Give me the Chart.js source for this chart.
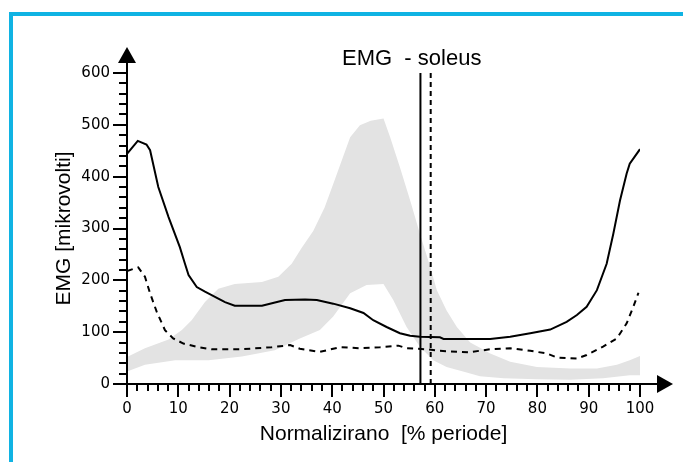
<!DOCTYPE html>
<html>
<head>
<meta charset="utf-8">
<script src="https://cdn.jsdelivr.net/npm/chart.js@4"></script>
<style>
  html, body { margin: 0; padding: 0; background: #fff; }
  #wrap { position: relative; width: 683px; height: 462px; overflow: hidden; }
  #okvir { position: absolute; left: 9px; top: 12px; right: -10px; bottom: -10px;
           border-top: 4px solid #10b3e3; border-left: 4px solid #10b3e3; }
  #graf { position: absolute; left: 0; top: 0; }
</style>
</head>
<body>
<div id="wrap">
  <div id="okvir"></div>
  <canvas id="graf" width="683" height="462"></canvas>
</div>
<script>
// --- PODACI ---
const naslov = 'EMG  - soleus';
const naslovX = 'Normalizirano  [% periode]';
const naslovY = 'EMG [mikrovolti]';

// srednja vrijednost (puna linija)
const srednjaX = [0, 2.1, 3.8, 4.5, 6.1, 8.1, 10.3, 11.3, 12, 13.6, 15.2, 19.1, 21, 26.3, 30.8, 34.7, 37, 40.2, 43.5, 46.1, 48, 50.6, 53.2, 55.2, 57.1, 61, 61.7, 66, 70.8, 74.7, 78.6, 82.5, 85.7, 87.7, 89.6, 91.6, 93.5, 94.8, 96.1, 97.4, 98, 100];
const srednjaY = [444, 469, 462, 451, 380, 322, 264, 232, 210, 187, 178, 158, 151, 151, 162, 163, 162, 155, 146, 137, 123, 110, 98, 93, 91, 90, 87, 87, 87, 91, 98, 105, 120, 133, 149, 181, 232, 290, 354, 406, 425, 453];

// isprekidana linija
const drugaX = [0, 2.2, 3.5, 4.5, 5.8, 7.4, 9, 11, 13.9, 16.5, 22.4, 28.2, 31.8, 33.7, 37.6, 41.5, 45.4, 49.3, 52.9, 54.5, 58.4, 61, 66.5, 70.8, 74.7, 78.6, 81.8, 83.8, 87.7, 89.6, 92.8, 95.5, 97.4, 98.7, 99.7];
const drugaY = [218, 225, 207, 175, 139, 104, 88, 78, 71, 67, 67, 71, 75, 68, 62, 71, 69, 71, 74, 69, 67, 64, 61, 67, 69, 64, 59, 51, 49, 56, 72, 88, 117, 149, 176];

// normalni raspon (sivo podrucje)
const gornjaX = [0, 3.5, 8.1, 10.7, 12.6, 15.2, 17.8, 21, 26.3, 29.5, 32.1, 34, 36.3, 38.5, 40.2, 42, 43.5, 45.4, 47.5, 50, 51.3, 53.2, 55.2, 57.1, 59.1, 60.4, 62.3, 64.3, 66.9, 68.8, 70.8, 74.7, 79.9, 86.4, 91.6, 95.5, 98, 100];
const gornjaY = [52, 69, 86, 104, 123, 158, 184, 193, 197, 207, 232, 262, 295, 340, 386, 435, 476, 499, 508, 512, 476, 418, 354, 290, 226, 181, 142, 110, 80, 70, 59, 43, 33, 30, 30, 37, 46, 54];
const donjaX = [0, 3.5, 9.4, 15.9, 22.4, 28.8, 33.7, 37.6, 40.2, 43.5, 46.7, 50, 51.9, 54.5, 57.1, 59.7, 62.3, 66.2, 68.8, 73.4, 79.9, 86.4, 92.8, 98, 100];
const donjaY = [24, 37, 46, 46, 53, 65, 88, 104, 130, 175, 191, 193, 162, 110, 72, 46, 33, 22, 15, 11, 9, 8, 11, 17, 17];

// vertikalne oznake (% periode)
const oznakaPuna = 57.2;
const oznakaIsprekidana = 59.2;

const tickoviX = { min: 0, max: 100, korak: 2, glavni: 10 };
const tickoviY = { min: 0, max: 600, korak: 20, glavni: 100 };

function tocke(xs, ys) {
    return xs.map((x, i) => ({ x: x, y: ys[i] }));
}

// --- OSI, STRELICE I CRTICE ---
const osiPlugin = {
    id: 'osi',
    afterDraw(chart) {
        const { ctx, chartArea: a, scales } = chart;
        const x = scales.x, y = scales.y;
        ctx.save();
        ctx.strokeStyle = '#000';
        ctx.fillStyle = '#000';
        ctx.lineWidth = 2;
        ctx.beginPath();
        ctx.moveTo(a.left, a.bottom); ctx.lineTo(a.left, a.top - 12);
        ctx.moveTo(a.left - 1, a.bottom); ctx.lineTo(a.right + 20, a.bottom);
        y.ticks.forEach(t => {
            const py = Math.round(y.getPixelForValue(t.value));
            const d = t.value % tickoviY.glavni === 0 ? 14 : 8;
            ctx.moveTo(a.left - d, py); ctx.lineTo(a.left, py);
        });
        x.ticks.forEach(t => {
            const px = Math.round(x.getPixelForValue(t.value));
            const d = t.value % tickoviX.glavni === 0 ? 13 : 7;
            ctx.moveTo(px, a.bottom); ctx.lineTo(px, a.bottom + d);
        });
        ctx.stroke();
        // strelica y
        ctx.beginPath();
        ctx.moveTo(a.left, a.top - 26);
        ctx.lineTo(a.left - 9, a.top - 10);
        ctx.lineTo(a.left + 9, a.top - 10);
        ctx.closePath(); ctx.fill();
        // strelica x
        ctx.beginPath();
        ctx.moveTo(a.right + 33, a.bottom);
        ctx.lineTo(a.right + 17, a.bottom - 9);
        ctx.lineTo(a.right + 17, a.bottom + 9);
        ctx.closePath(); ctx.fill();
        // naslov
        ctx.font = '22px "Liberation Sans", Arial, sans-serif';
        ctx.textAlign = 'center';
        ctx.textBaseline = 'alphabetic';
        ctx.fillText(naslov, x.getPixelForValue(55.5), a.top - 8);
        ctx.restore();
    }
};

const ctx = document.getElementById('graf').getContext('2d');
const grafikon = new Chart(ctx, {
    type: 'line',
    data: {
        datasets: [
            { label: 'gornja', data: tocke(gornjaX, gornjaY), fill: '+1', backgroundColor: '#e3e3e3', order: 10,
              borderWidth: 0, borderColor: 'rgba(0,0,0,0)', pointRadius: 0, tension: 0 },
            { label: 'donja', data: tocke(donjaX, donjaY), fill: false, order: 11,
              borderWidth: 0, borderColor: 'rgba(0,0,0,0)', pointRadius: 0, tension: 0 },
            { label: 'isprekidana', data: tocke(drugaX, drugaY), fill: false, borderColor: '#000', order: 2,
              borderWidth: 2, borderDash: [6, 5], pointRadius: 0, tension: 0 },
            { label: 'srednja', data: tocke(srednjaX, srednjaY), fill: false, borderColor: '#000', order: 1,
              borderWidth: 2, pointRadius: 0, tension: 0 },
            { label: 'oznaka1', data: [{ x: oznakaPuna, y: tickoviY.min }, { x: oznakaPuna, y: tickoviY.max }],
              fill: false, borderColor: '#000', borderWidth: 2, pointRadius: 0, order: 0 },
            { label: 'oznaka2', data: [{ x: oznakaIsprekidana, y: tickoviY.min }, { x: oznakaIsprekidana, y: tickoviY.max }],
              fill: false, borderColor: '#000', borderWidth: 2, borderDash: [5, 4], pointRadius: 0, order: 0 }
        ]
    },
    options: {
        responsive: false,
        animation: false,
        devicePixelRatio: 1,
        layout: { padding: { left: 0, right: 43, top: 73, bottom: 0 } },
        plugins: { legend: { display: false }, tooltip: { enabled: false } },
        scales: {
            x: {
                type: 'linear', min: tickoviX.min, max: tickoviX.max,
                border: { display: false },
                grid: { display: true, drawOnChartArea: false, drawTicks: false },
                afterFit: s => { s.height = 78; },
                ticks: {
                    stepSize: tickoviX.korak, autoSkip: false, maxRotation: 0, padding: 16,
                    color: '#000', font: { family: '"DejaVu Sans", sans-serif', size: 15 },
                    callback: v => v % tickoviX.glavni === 0 ? v : ''
                },
                title: { display: true, text: naslovX, color: '#000',
                         font: { family: '"Liberation Sans", Arial, sans-serif', size: 21 },
                         padding: { top: 0, bottom: 15 } }
            },
            y: {
                min: tickoviY.min, max: tickoviY.max,
                border: { display: false },
                grid: { display: true, drawOnChartArea: false, drawTicks: false },
                afterFit: s => { s.width = 127; },
                ticks: {
                    stepSize: tickoviY.korak, autoSkip: false, padding: 17,
                    color: '#000', font: { family: '"DejaVu Sans", sans-serif', size: 15 },
                    callback: v => v % tickoviY.glavni === 0 ? v : ''
                },
                title: { display: true, text: naslovY, color: '#000',
                         font: { family: '"Liberation Sans", Arial, sans-serif', size: 21 },
                         padding: { top: 52, bottom: 0 } }
            }
        }
    },
    plugins: [osiPlugin]
});
</script>
</body>
</html>
